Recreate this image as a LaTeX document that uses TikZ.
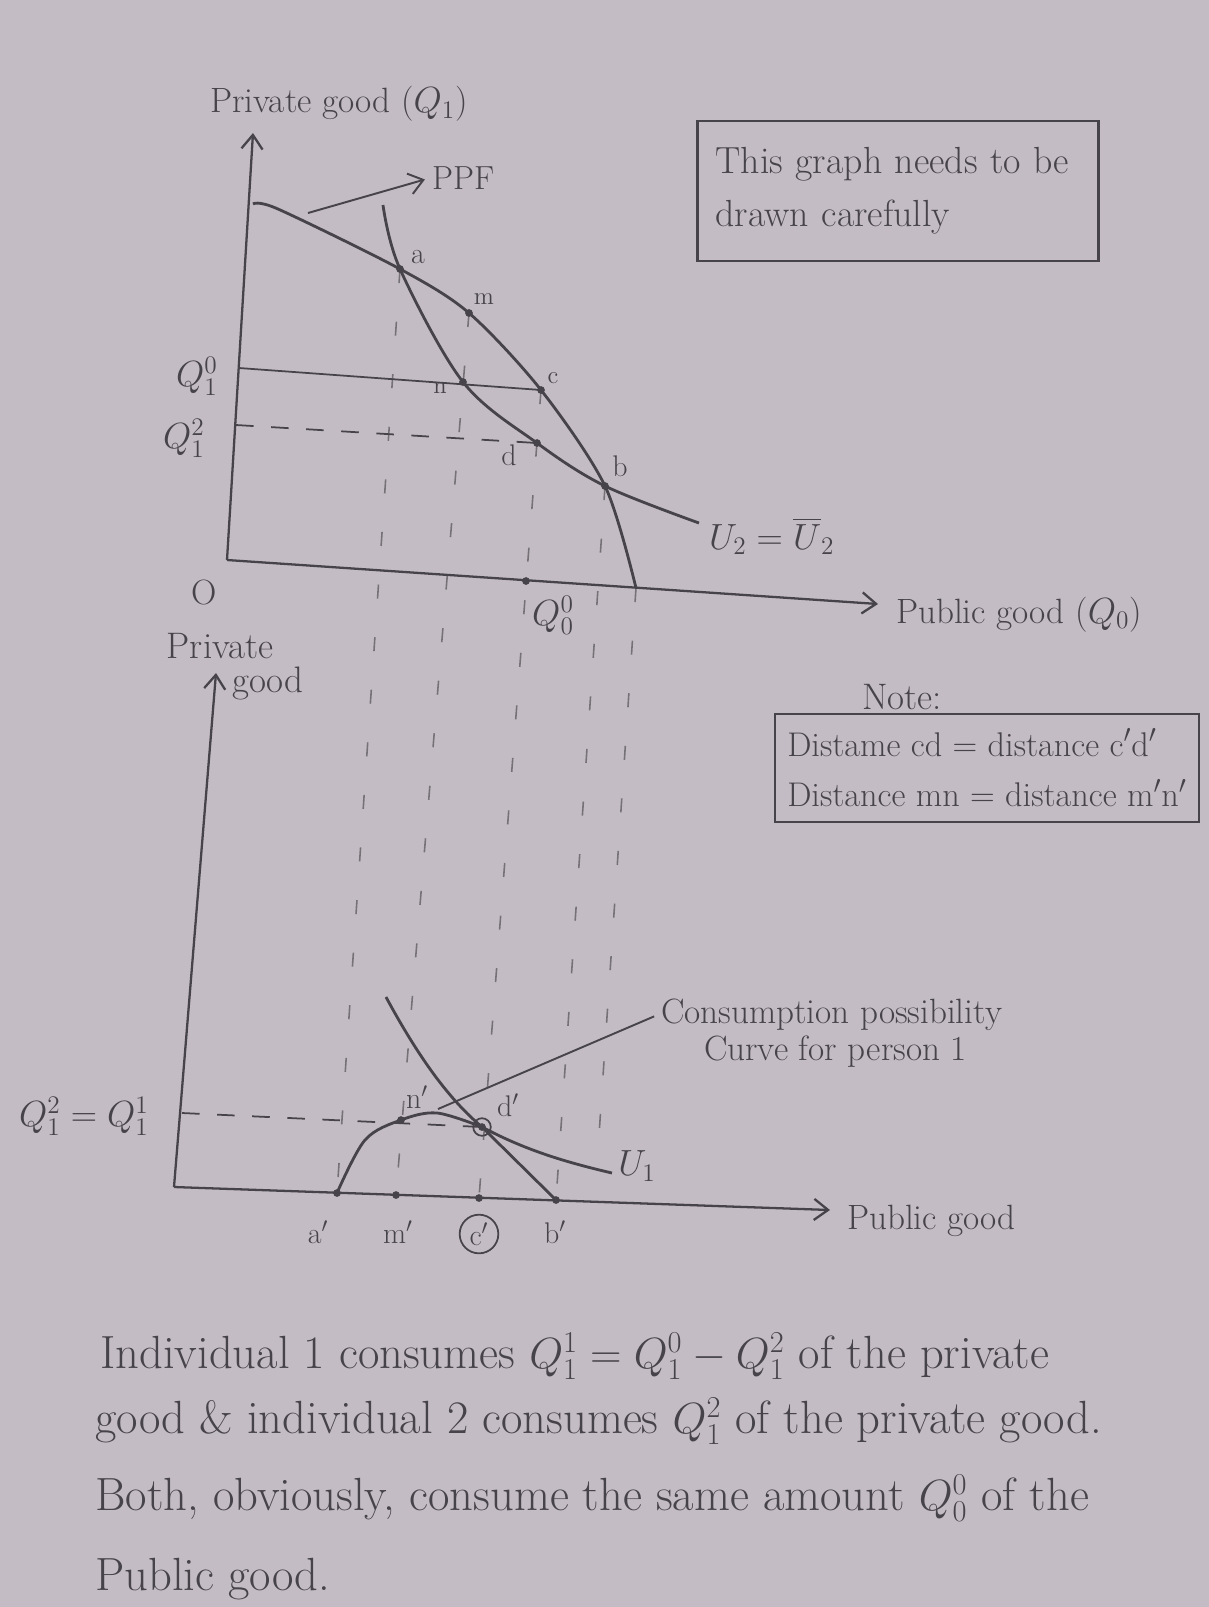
\documentclass[tikz,border=0pt]{standalone}
\usepackage{amsmath,amssymb}
\usepackage{tikz}
\usetikzlibrary{arrows.meta,positioning,calc}

\definecolor{paper}{HTML}{C4BCC4}
\definecolor{ink}{HTML}{47434A}

\tikzset{
    >={Straight Barb[length=8pt,width=12pt]},
    axisline/.style={draw=ink, line width=1.3pt},
    curveline/.style={draw=ink, line width=1.6pt},
    guideline/.style={draw=ink!75, line width=0.9pt, dash pattern=on 8pt off 22pt},
    levelline/.style={draw=ink, line width=1pt, dash pattern=on 10pt off 10pt},
    pointlabel/.style={text=ink, font={\fontsize{17pt}{20pt}\selectfont}, inner sep=1pt},
    minorlabel/.style={text=ink, font={\fontsize{14pt}{17pt}\selectfont}, inner sep=1pt},
    axislabel/.style={text=ink, font={\fontsize{20pt}{24pt}\selectfont}, inner sep=1pt},
    notetext/.style={text=ink, font={\fontsize{21pt}{29pt}\selectfont}, inner sep=1pt},
    bodytext/.style={text=ink, font={\fontsize{26.5pt}{30pt}\selectfont}, inner sep=0pt, anchor=base west},
}

\begin{document}
\begin{tikzpicture}[x=0.02cm, y=-0.02cm]
\tikzstyle{framebox} = [draw=ink, line width=1.2pt, align=left]

% Paper
\fill[paper] (0,0) rectangle (1209,1607);
\useasboundingbox (0,0) rectangle (1209,1607);

% Upper graph: points
\coordinate (O1) at (227,560);
\coordinate (ytop1) at (253,133);
\coordinate (xend1) at (878,604);
\coordinate (ppf0) at (253,204);
\coordinate (ppfk) at (278,209);
\coordinate (ppf1) at (636,588);
\coordinate (u2start) at (383,205);
\coordinate (u2end) at (699,523);
\coordinate (a) at (400,269);
\coordinate (m) at (469,313);
\coordinate (n) at (463,382);
\coordinate (c) at (541,390);
\coordinate (d) at (537,443);
\coordinate (b) at (605,486);
\coordinate (q00) at (526,581);
\coordinate (q10) at (239,368);
\coordinate (q12) at (236,425);
\coordinate (ppftail) at (308,213);

% Lower graph: points
\coordinate (O2) at (174,1187);
\coordinate (ytop2) at (216,673);
\coordinate (xend2) at (830,1210);
\coordinate (ap) at (337,1193);
\coordinate (mp) at (396,1195);
\coordinate (cp) at (479,1198);
\coordinate (bp) at (556,1200);
\coordinate (np) at (401,1120);
\coordinate (dp) at (482,1127);
\coordinate (peak) at (437,1113);
\coordinate (u1start) at (386,997);
\coordinate (u1end) at (612,1173);
\coordinate (q2ax) at (182,1113);
\coordinate (cpctip) at (438,1109);
\coordinate (ppfdrop) at (598,1150);

% Guides from the upper graph down to the lower one
\draw[guideline] (a) -- (ap);
\draw[guideline] (m) -- (mp);
\draw[guideline] (c) -- (cp);
\draw[guideline] (b) -- (bp);
\draw[guideline] (ppf1) -- (ppfdrop);

% Upper graph
\draw[axisline,->] (O1) -- (ytop1);
\draw[axisline,->] (O1) -- (xend1);
\draw[curveline] plot[smooth, tension=0.5] coordinates {(ppf0) (ppfk) (a) (m) (c) (b) (ppf1)};
\draw[curveline] plot[smooth, tension=0.55] coordinates {(u2start) (a) (n) (d) (b) (u2end)};
\draw[draw=ink, line width=1pt] (q10) -- (c);
\draw[levelline] (q12) -- (d);

\node[axislabel] (ytitle1) at (339,104) {Private good ($Q_1$)};
\node[axislabel] (olabel) at (204,592) {O};
\node[axislabel, anchor=base west] (xtitle1) at (894,623) {Public good ($Q_0$)};
\node[axislabel] (q10lbl) at (197,376) {$Q^{0}_{1}$};
\node[axislabel] (q12lbl) at (184,438) {$Q^{2}_{1}$};
\node[axislabel] (q00lbl) at (553,615) {$Q^{0}_{0}$};
\node[axislabel, font={\fontsize{19pt}{22pt}\selectfont}, anchor=west] (ppflbl) at (430,178) {PPF};
\node[axislabel, font={\fontsize{21pt}{24pt}\selectfont}, anchor=west] (u2lbl) at (707,536) {$U_2 = \overline{U}_2$};
\draw[ink, line width=1.1pt, ->, shorten >=3pt] (ppftail) -- (ppflbl.west);

\node[pointlabel] (la) at (418,257) {a};
\node[minorlabel] (lm) at (484,299) {m};
\node[minorlabel] (ln) at (440,388) {n};
\node[minorlabel] (lc) at (553,378) {c};
\node[pointlabel] (ld) at (509,455) {d};
\node[pointlabel] (lb) at (620,466) {b};

% Boxes
\node[framebox, notetext, font={\fontsize{21.5pt}{30pt}\selectfont}, minimum width=8.02cm, minimum height=2.8cm, text width=7.3cm] (warnbox) at (898,191) {This graph needs to be\\drawn carefully};
\node[notetext] (notelbl) at (902,697) {Note:};
\node[framebox, notetext, font={\fontsize{19.5pt}{29pt}\selectfont}, minimum width=8.48cm, minimum height=2.16cm] (notebox) at (987,768) {Distame cd = distance c$'$d$'$\\Distance mn = distance m$'$n$'$};

% Lower graph
\draw[axisline,->] (O2) -- (ytop2);
\draw[axisline,->] (O2) -- (xend2);
\draw[curveline] plot[smooth, tension=0.55] coordinates {(ap) (365,1140) (np) (peak) (dp)} -- (bp);
\draw[curveline] (u1start) .. controls (420,1060) and (450,1100) .. (dp) .. controls (525,1150) and (565,1162) .. (u1end);
\draw[levelline] (q2ax) -- (dp);
\draw[ink, line width=1pt] (dp) circle (5pt);

\node[axislabel, font={\fontsize{21pt}{24pt}\selectfont}] (ytitle2a) at (220,646) {Private};
\node[axislabel, font={\fontsize{21pt}{24pt}\selectfont}, anchor=base west] (ytitle2b) at (230,692) {good};
\node[axislabel, anchor=base west] (xtitle2) at (845,1229) {Public good};
\node[axislabel, font={\fontsize{21pt}{24pt}\selectfont}] (qeqlbl) at (84,1116) {$Q^{2}_{1} = Q^{1}_{1}$};
\node[notetext, font={\fontsize{20pt}{24pt}\selectfont}, anchor=base west] (cpclbl1) at (659,1023) {Consumption possibility};
\node[notetext, font={\fontsize{20pt}{24pt}\selectfont}, anchor=base west] (cpclbl2) at (702,1060) {Curve for person 1};
\draw[ink, line width=1.1pt, shorten >=3pt] (cpctip) -- (cpclbl1.west);

\node[pointlabel] (lap) at (318,1232) {a$'$};
\node[pointlabel] (lmp) at (398,1232) {m$'$};
\node[pointlabel, circle, draw=ink, line width=1pt, minimum size=22pt, inner sep=0pt] (lcp) at (479,1234) {c$'$};
\node[pointlabel] (lbp) at (555,1232) {b$'$};
\node[pointlabel] (lnp) at (417,1097) {n$'$};
\node[pointlabel] (ldp) at (508,1105) {d$'$};
\node[axislabel] (lu1) at (637,1166) {$U_1$};

% Dots
\foreach \p in {a,m,n,c,d,b,q00,ap,mp,cp,bp,np,dp}
    \fill[ink] (\p) circle (2.2pt);

% Explanation
\node[bodytext] (para1) at (100,1368) {Individual 1 consumes $Q^{1}_{1} = Q^{0}_{1} - Q^{2}_{1}$ of the private};
\node[bodytext] (para2) at (95,1433) {good \& individual 2 consumes $Q^{2}_{1}$ of the private good.};
\node[bodytext] (para3) at (95,1510) {Both, obviously, consume the same amount $Q^{0}_{0}$ of the};
\node[bodytext] (para4) at (95,1590) {Public good.};
\end{tikzpicture}
\end{document}
